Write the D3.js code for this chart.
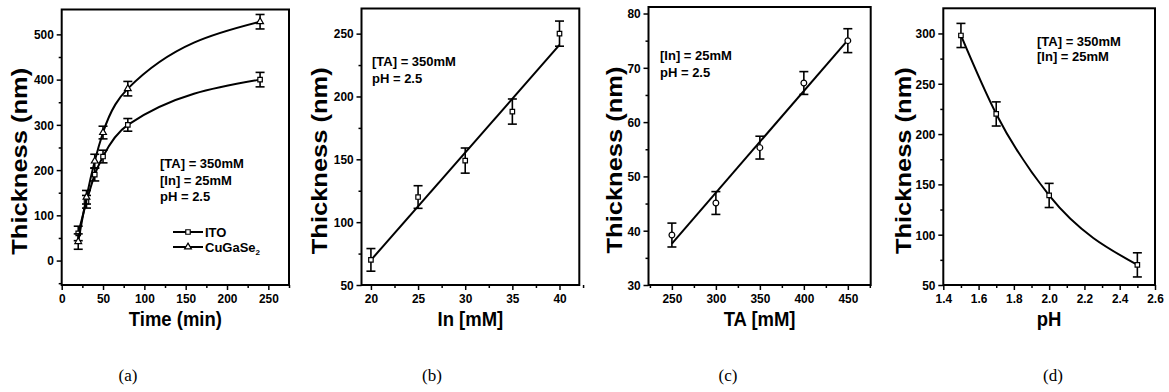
<!DOCTYPE html>
<html>
<head>
<meta charset="utf-8">
<script src="https://cdn.jsdelivr.net/npm/d3@7"></script>
<style>
  body { margin: 0; background: #fff; }
  svg { display: block; }
  text { font-family: "Liberation Sans", Arial, sans-serif; font-weight: bold; fill: #000; }
  .caption { font-family: "Liberation Serif", "Times New Roman", serif; font-weight: normal; }
</style>
</head>
<body>
<div id="figure"></div>
<script>
// (a) thickness vs deposition time
var timeMin = [20, 30, 40, 50, 80, 240];
var itoThickness = [60, 130, 190, 230, 300, 400];
var itoError = [16, 14, 14, 14, 14, 16];
var cgsThickness = [42, 140, 220, 283, 380, 528];
var cgsError = [17, 15, 15, 14, 16, 16];

// (b) thickness vs In concentration
var inConc = [20, 25, 30, 35, 40];
var inThickness = [70, 120, 149, 188, 250];
var inError = [9, 9, 10, 10, 10];

// (c) thickness vs TA concentration
var taConc = [250, 300, 350, 400, 450];
var taThickness = [39.2, 45.1, 55.3, 67.2, 75.0];
var taError = [2.2, 2.1, 2.1, 2.1, 2.2];

// (d) thickness vs pH
var phValues = [1.5, 1.7, 2.0, 2.5];
var phThickness = [298, 220, 139, 70];
var phError = [12, 12, 12, 12];

// tick labels
var ticksA = { x: [0, 50, 100, 150, 200, 250], y: [0, 100, 200, 300, 400, 500] };
var ticksB = { x: [20, 25, 30, 35, 40], y: [50, 100, 150, 200, 250] };
var ticksC = { x: [250, 300, 350, 400, 450], y: [30, 40, 50, 60, 70, 80] };
var ticksD = { x: [1.4, 1.6, 1.8, 2.0, 2.2, 2.4, 2.6], y: [50, 100, 150, 200, 250, 300] };

var captions = ["(a)", "(b)", "(c)", "(d)"];

var width = 1169, height = 392;
var squash = 0.88; // the source figure is a little narrower than tall
var svg = d3.select("#figure").append("svg")
  .attr("width", width)
  .attr("height", height);

function zip(xs, ys, es) {
  return xs.map(function(x, i) {
    return { x: x, y: ys[i], e: es ? es[i] : 0 };
  });
}

function midpoints(vals) {
  var out = [];
  for (var i = 0; i < vals.length - 1; i++) out.push((vals[i] + vals[i + 1]) / 2);
  return out;
}

// least squares line through a series
function linearFit(xs, ys) {
  var mx = d3.mean(xs), my = d3.mean(ys);
  var sxy = d3.sum(xs, function(x, i) { return (x - mx) * (ys[i] - my); });
  var sxx = d3.sum(xs, function(x) { return (x - mx) * (x - mx); });
  var b = sxy / sxx;
  return function(x) { return my + b * (x - mx); };
}

function drawPanel(p) {
  var g = svg.append("g");
  var x = d3.scaleLinear().domain(p.xDomain).range([p.left, p.right]);
  var y = d3.scaleLinear().domain(p.yDomain).range([p.bottom, p.top]);

  // minor ticks
  var xMinor = midpoints(p.ticks.x).concat(p.xMinorExtra || []);
  var yMinor = midpoints(p.ticks.y).concat(p.yMinorExtra || []);
  g.append("g")
    .attr("transform", "translate(0," + p.bottom + ")")
    .call(d3.axisBottom(x).tickValues(xMinor).tickFormat("").tickSize(3).tickSizeOuter(0))
    .call(function(a) { a.select(".domain").remove(); a.selectAll("line").attr("stroke-width", 1.5); });
  g.append("g")
    .attr("transform", "translate(" + p.left + ",0)")
    .call(d3.axisLeft(y).tickValues(yMinor).tickFormat("").tickSize(3).tickSizeOuter(0))
    .call(function(a) { a.select(".domain").remove(); a.selectAll("line").attr("stroke-width", 1.5); });

  // major ticks
  var xAxis = g.append("g")
    .attr("transform", "translate(0," + p.bottom + ")")
    .call(d3.axisBottom(x).tickValues(p.ticks.x).tickFormat(p.xFormat || d3.format("d"))
      .tickSize(5).tickPadding(3).tickSizeOuter(0));
  var yAxis = g.append("g")
    .attr("transform", "translate(" + p.left + ",0)")
    .call(d3.axisLeft(y).tickValues(p.ticks.y).tickFormat(d3.format("d"))
      .tickSize(5).tickPadding(4).tickSizeOuter(0));
  [xAxis, yAxis].forEach(function(a) {
    a.select(".domain").remove();
    a.selectAll("line").attr("stroke-width", 1.5);
    a.selectAll("text")
      .attr("font-size", 13.5)
      .attr("font-family", null)
      .attr("fill", null)
      .attr("transform", "scale(" + squash + ",1)");
  });

  // frame
  g.append("rect")
    .attr("x", p.left)
    .attr("y", p.top)
    .attr("width", p.right - p.left)
    .attr("height", p.bottom - p.top)
    .attr("fill", "none")
    .attr("stroke", "#000")
    .attr("stroke-width", 2);

  // titles
  g.append("text")
    .attr("transform", "translate(" + ((p.left + p.right) / 2) + "," + (p.bottom + 41) + ") scale(" + squash + ",1)")
    .attr("text-anchor", "middle")
    .attr("font-size", 21)
    .text(p.xTitle);
  g.append("text")
    .attr("transform", "translate(" + (p.left - p.titleOffset) + "," + ((p.top + p.bottom) / 2 + 14) +
      ") rotate(-90) scale(1," + squash + ")")
    .attr("text-anchor", "middle")
    .attr("font-size", 25.5)
    .text("Thickness (nm)");

  // annotation
  g.selectAll("text.note")
    .data(p.notes)
    .enter().append("text")
    .attr("class", "note")
    .attr("x", p.noteX)
    .attr("y", function(d, i) { return p.noteY + i * p.noteStep; })
    .attr("font-size", 13)
    .text(function(d) { return d; });

  p.series.forEach(function(s) {
    var pts = zip(s.xs, s.ys, s.es);
    var line = d3.line()
      .x(function(d) { return x(d.x); })
      .y(function(d) { return y(d.y); })
      .curve(s.curve || d3.curveLinear);
    g.append("path")
      .datum(s.fit ? s.fit : pts)
      .attr("d", line)
      .attr("fill", "none")
      .attr("stroke", "#000")
      .attr("stroke-width", 2);

    var eb = g.append("g").selectAll("g")
      .data(pts)
      .enter().append("g");
    eb.append("line")
      .attr("x1", function(d) { return x(d.x); })
      .attr("x2", function(d) { return x(d.x); })
      .attr("y1", function(d) { return y(d.y - d.e); })
      .attr("y2", function(d) { return y(d.y + d.e); })
      .attr("stroke", "#000")
      .attr("stroke-width", 1.6);
    [-1, 1].forEach(function(sign) {
      eb.append("line")
        .attr("x1", function(d) { return x(d.x) - 4.5; })
        .attr("x2", function(d) { return x(d.x) + 4.5; })
        .attr("y1", function(d) { return y(d.y + sign * d.e); })
        .attr("y2", function(d) { return y(d.y + sign * d.e); })
        .attr("stroke", "#000")
        .attr("stroke-width", 1.6);
    });

    g.append("g").selectAll("path")
      .data(pts)
      .enter().append("path")
      .attr("transform", function(d) { return "translate(" + x(d.x) + "," + y(d.y) + ")"; })
      .attr("d", d3.symbol().type(s.symbol).size(s.symbolSize || 20))
      .attr("fill", "#fff")
      .attr("stroke", "#000")
      .attr("stroke-width", 1.2);
  });

  return { x: x, y: y, g: g };
}

// (a)
var a = drawPanel({
  left: 61.7, right: 289, top: 9.5, bottom: 285,
  xDomain: [0, 275], yDomain: [-54, 555],
  ticks: ticksA, xMinorExtra: [275], yMinorExtra: [-50],
  xTitle: "Time (min)", titleOffset: 35,
  notes: ["[TA] = 350mM", "[In] = 25mM", "pH = 2.5"],
  noteX: 160, noteY: 168, noteStep: 16.5,
  series: [
    { xs: timeMin, ys: itoThickness, es: itoError, symbol: d3.symbolSquare, curve: d3.curveMonotoneX },
    { xs: timeMin, ys: cgsThickness, es: cgsError, symbol: d3.symbolTriangle, curve: d3.curveMonotoneX }
  ]
});

// legend for (a)
var legendItems = [
  { label: "ITO", symbol: d3.symbolSquare, y: 232 },
  { label: "CuGaSe", sub: "2", symbol: d3.symbolTriangle, y: 247 }
];
var lg = a.g.selectAll("g.legend")
  .data(legendItems)
  .enter().append("g")
  .attr("class", "legend");
lg.append("line")
  .attr("x1", 173).attr("x2", 203)
  .attr("y1", function(d) { return d.y; })
  .attr("y2", function(d) { return d.y; })
  .attr("stroke", "#000").attr("stroke-width", 2);
lg.append("path")
  .attr("transform", function(d) { return "translate(188," + d.y + ")"; })
  .attr("d", function(d) { return d3.symbol().type(d.symbol).size(20)(); })
  .attr("fill", "#fff").attr("stroke", "#000").attr("stroke-width", 1.2);
var lt = lg.append("text")
  .attr("x", 205)
  .attr("y", function(d) { return d.y + 4.5; })
  .attr("font-size", 13)
  .text(function(d) { return d.label; });
lt.filter(function(d) { return d.sub; })
  .append("tspan")
  .attr("dy", 3)
  .attr("font-size", 8)
  .text(function(d) { return d.sub; });

// (b)
var fitB = linearFit(inConc, inThickness);
drawPanel({
  left: 361.5, right: 579.3, top: 8.5, bottom: 285,
  xDomain: [19, 42.1], yDomain: [50, 270],
  ticks: ticksB, xMinorExtra: [42.5], yMinorExtra: [],
  xTitle: "In [mM]", titleOffset: 35,
  notes: ["[TA] = 350mM", "pH = 2.5"],
  noteX: 372, noteY: 66, noteStep: 16.5,
  series: [
    { xs: inConc, ys: inThickness, es: inError, symbol: d3.symbolSquare,
      fit: [20, 40].map(function(v) { return { x: v, y: fitB(v) }; }) }
  ]
});

// (c)
var fitC = linearFit(taConc, taThickness);
drawPanel({
  left: 648.5, right: 870.7, top: 7, bottom: 285,
  xDomain: [223.4, 476], yDomain: [30, 81.2],
  ticks: ticksC, xMinorExtra: [225, 475], yMinorExtra: [],
  xTitle: "TA [mM]", titleOffset: 27,
  notes: ["[In] = 25mM", "pH = 2.5"],
  noteX: 660, noteY: 59.5, noteStep: 17.5,
  series: [
    { xs: taConc, ys: taThickness, es: taError, symbol: d3.symbolCircle, symbolSize: 26,
      fit: [250, 450].map(function(v) { return { x: v, y: fitC(v) }; }) }
  ]
});

// (d)
drawPanel({
  left: 943.3, right: 1155, top: 8.3, bottom: 285,
  xDomain: [1.4, 2.6], yDomain: [50, 325],
  ticks: ticksD, xMinorExtra: [], yMinorExtra: [],
  xFormat: d3.format(".1f"),
  xTitle: "pH", titleOffset: 32,
  notes: ["[TA] = 350mM", "[In] = 25mM"],
  noteX: 1037, noteY: 46, noteStep: 15,
  series: [
    { xs: phValues, ys: phThickness, es: phError, symbol: d3.symbolSquare, curve: d3.curveMonotoneX }
  ]
});

// captions
var captionX = [128, 432, 728, 1053];
svg.selectAll("text.caption")
  .data(captions)
  .enter().append("text")
  .attr("class", "caption")
  .attr("x", function(d, i) { return captionX[i]; })
  .attr("y", 381)
  .attr("text-anchor", "middle")
  .attr("font-size", 17)
  .text(function(d) { return d; });
</script>
</body>
</html>
